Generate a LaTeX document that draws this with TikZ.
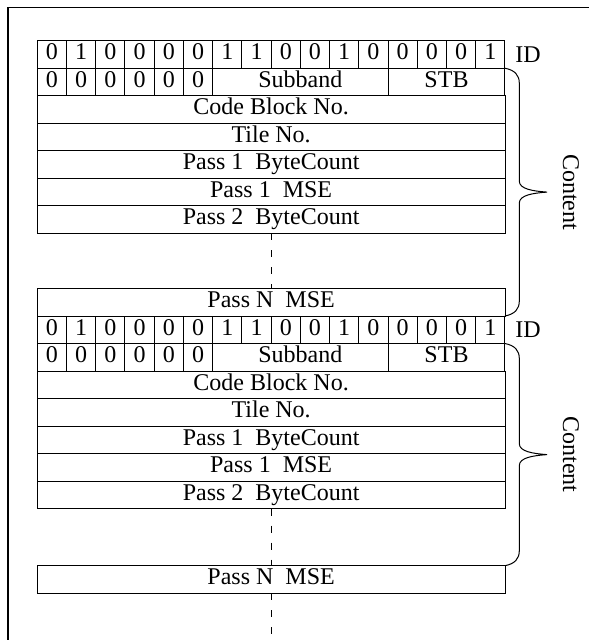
\documentclass[tikz,border=0pt]{standalone}
\usepackage{fontspec}
\setmainfont{Liberation Serif}
\begin{document}
\begin{tikzpicture}[
	x=1pt,
	y=-1pt,
	font=\fontsize{24}{27}\selectfont,
	cell/.style={draw=black, line width=1pt, minimum width=29.23pt, minimum height=27.5pt, inner sep=0pt, outer sep=0pt, text height=16pt, text depth=5pt},
	full/.style={cell, minimum width=467.7pt},
	frame/.style={line width=1.3pt, black},
	skipline/.style={line width=1pt, dash pattern=on 7pt off 10pt},
	bracepath/.style={line width=1pt, black},
	tag/.style={inner sep=0pt}
	]
	\useasboundingbox (0,0) rectangle (589,640);

	% outer frame (cut off at right and bottom)
	\coordinate (fbl) at (8,640);
	\coordinate (ftl) at (8,7.5);
	\coordinate (ftr) at (589,7.5);
	\draw[frame] (fbl) -- (ftl) -- (ftr);

	\foreach \k/\t/\n/\e/\yb in {1/40.7/288.5/south east/316, 2/316/565.7/north east/565.7}{
		% ID row
		\foreach \v [count=\i] in {0,1,0,0,0,0,1,1,0,0,1,0,0,0,0,1}
			\node[cell] (id\k-\i) at ({37.3+(\i-0.5)*29.23},{\t+13.75}) {\v};
		\node[tag] (idl\k) at (528,{\t+13.75}) {ID};
		% zeros, Subband, STB
		\foreach \i in {1,...,6}
			\node[cell] (zero\k-\i) at ({37.3+(\i-0.5)*29.23},{\t+41.25}) {0};
		\node[cell, minimum width=175.4pt] (sub\k) at (300.4,{\t+41.25}) {Subband};
		\node[cell, minimum width=116.9pt] (stb\k) at (446.5,{\t+41.25}) {STB};
		% full-width rows
		\foreach \lbl [count=\r from 3] in {Code Block No., Tile No., Pass 1\ \ ByteCount, Pass 1\ \ MSE, Pass 2\ \ ByteCount}
			\node[full] (row\k-\r) at (271.15,{\t+(\r-1)*27.5+13.75}) {\lbl};
		\node[full] (pn\k) at (271.15,{\n+13.75}) {Pass N\ \ MSE};
		\draw[skipline] (row\k-7.south) -- (pn\k.north);

		% brace
		\pgfmathsetmacro\ya{\t+27.5}
		\pgfmathsetmacro\ym{(\ya+\yb)/2}
		\draw[bracepath] (stb\k.north east) .. controls +(10,2) and +(0,-8) .. (519.3,\ya+15)
			-- (519.3,\ym-11) .. controls +(0,8) and +(-14,-1) .. (547,\ym)
			.. controls +(-14,1) and +(0,-8) .. (519.3,\ym+11)
			-- (519.3,\yb-15) .. controls +(0,8) and +(10,-2) .. (pn\k.\e);
		\node[tag, rotate=-90] (cnt\k) at (571,\ym) {Content};
	}

	\coordinate (tail) at (271.15,640);
	\draw[skipline] (pn2.south) -- (tail);
\end{tikzpicture}
\end{document}
